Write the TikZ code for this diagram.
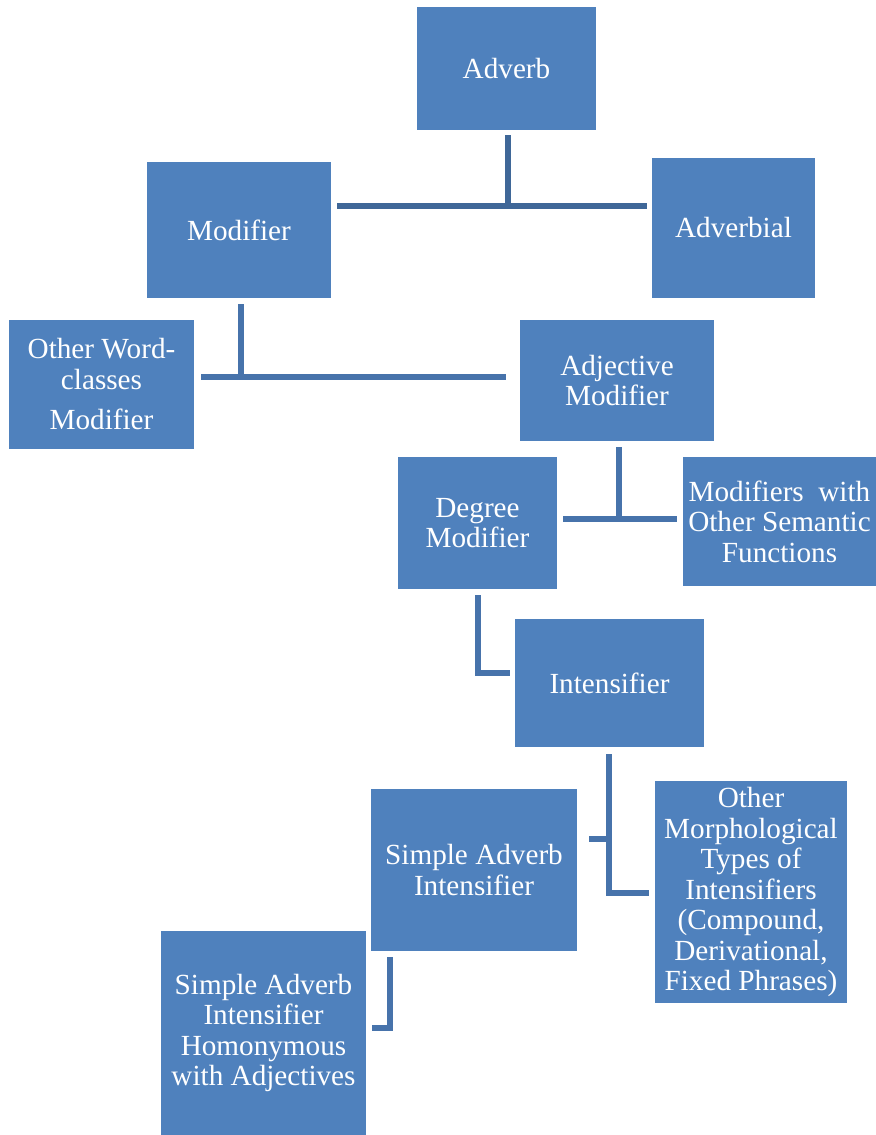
\documentclass[tikz,border=0pt]{standalone}
\usepackage{fontspec}
\setmainfont{Liberation Serif}
\newfontfamily\boxfont{Liberation Serif}
\usepackage{tikz}

\definecolor{boxblue}{HTML}{4F81BD}
\definecolor{lineblue}{HTML}{4773AB}
\definecolor{topline}{HTML}{3F6798}

\tikzset{
  box/.style={rectangle,fill=boxblue,text=white,align=center,inner sep=0pt,
    font=\boxfont\fontsize{14.6}{15.25}\selectfont},
  conn/.style={draw=lineblue,line width=3pt}
}

\begin{document}
\begin{tikzpicture}
  [x=0.5pt,y=-0.5pt]
  \useasboundingbox (0,0) rectangle (876,1135);
  \node[box,minimum width=89.5pt,minimum height=61.5pt] (adverb) at (506.5,68.5) {Adverb};
  \node[box,minimum width=92pt,minimum height=68pt] (modifier) at (239,230) {Modifier};
  \node[box,minimum width=81.5pt,minimum height=70pt] (adverbial) at (733.5,228) {Adverbial};
  \node[box,minimum width=92.5pt,minimum height=64.5pt] (otherwc) at (101.5,384.5) {Other Word-\\classes\\[5pt]Modifier};
  \node[box,minimum width=97pt,minimum height=60.5pt] (adjmod) at (617,380.5) {Adjective\\Modifier};
  \node[box,minimum width=79.5pt,minimum height=66pt] (degree) at (477.5,523) {Degree\\Modifier};
  \node[box,minimum width=96.5pt,minimum height=64.5pt] (semantic) at (779.5,521.5) {Modifiers\ \ with\\Other Semantic\\Functions};
  \node[box,minimum width=94.5pt,minimum height=64pt] (intens) at (609.5,683) {Intensifier};
  \node[box,minimum width=103pt,minimum height=81pt] (simple) at (474,870) {Simple Adverb\\Intensifier};
  \node[box,minimum width=96pt,minimum height=111pt] (othermorph) at (751,892) {Other\\Morphological\\Types of\\Intensifiers\\(Compound,\\Derivational,\\Fixed Phrases)};
  \node[box,minimum width=102.5pt,minimum height=102pt] (homonym) at (263.5,1033) {Simple Adverb\\Intensifier\\Homonymous\\with Adjectives};

  % junctions of the connectors
  \coordinate (j1) at (508,206);
  \coordinate (j1l) at (337,206);
  \coordinate (j1r) at (647,206);
  \coordinate (j2) at (240.5,377);
  \coordinate (j2l) at (201,377);
  \coordinate (j2r) at (506,377);
  \coordinate (j3) at (619,519);
  \coordinate (j3l) at (563,519);
  \coordinate (j3r) at (677,519);
  \coordinate (j4) at (478,672.5);
  \coordinate (j4r) at (510,672.5);
  \coordinate (j5) at (609,893);
  \coordinate (j5s) at (589,839);
  \coordinate (j5r) at (649,893);
  \coordinate (j6) at (390,1028);
  \coordinate (j6l) at (372,1028);

  \draw[conn,draw=topline] ([yshift=-2.5pt]adverb.south -| j1) -- (j1);
  \draw[conn,draw=topline] (j1l) -- (j1r);
  \foreach \from/\at/\l/\r in {modifier/j2/j2l/j2r,adjmod/j3/j3l/j3r}
  {
    \draw[conn] ([yshift=-3pt]\from.south -| \at) -- (\at);
    \draw[conn] (\l) -- (\r);
  }
  \draw[conn] ([yshift=-3pt]degree.south -| j4) -- (j4) -- (j4r);
  \draw[conn] ([yshift=-3.5pt]intens.south -| j5) -- (j5) -- (j5r);
  \draw[conn] (j5s) -- (j5s -| j5);
  \draw[conn] ([yshift=-3pt]simple.south -| j6) -- (j6) -- (j6l);
\end{tikzpicture}
\end{document}
